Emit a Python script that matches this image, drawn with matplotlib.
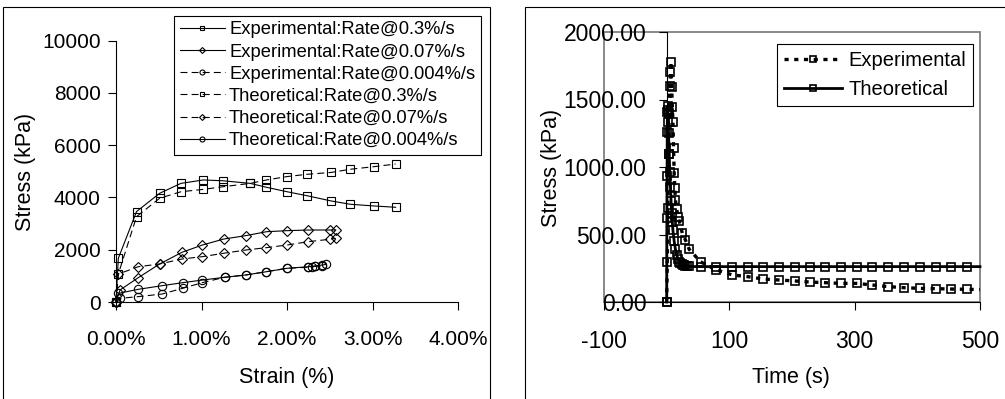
import matplotlib
matplotlib.use("Agg")
import matplotlib.pyplot as plt
from matplotlib.patches import Rectangle
from matplotlib.lines import Line2D

plt.rcParams['font.family'] = ['Liberation Sans', 'DejaVu Sans']
plt.rcParams['lines.scale_dashes'] = False

# ---- left panel data: strain (%) vs stress (kPa)
strain_sq = [0, 0.027, 0.24, 0.51, 0.76, 1.02, 1.25, 1.57, 1.76, 2.0, 2.23, 2.52, 2.74, 3.02, 3.27]
exp_03 = [0, 1670, 3460, 4160, 4540, 4670, 4640, 4540, 4390, 4220, 4070, 3865, 3740, 3675, 3625]
theo_03 = [0, 1070, 3265, 3970, 4220, 4310, 4410, 4540, 4670, 4800, 4885, 4960, 5080, 5180, 5280]

strain_dia_exp = [0, 0.047, 0.26, 0.51, 0.77, 1.01, 1.26, 1.52, 1.76, 2.0, 2.25, 2.50, 2.57]
exp_007 = [0, 460, 930, 1455, 1900, 2180, 2410, 2540, 2690, 2730, 2755, 2755, 2755]
strain_dia_theo = [0, 0.027, 0.26, 0.51, 0.77, 1.01, 1.26, 1.52, 1.76, 2.0, 2.25, 2.50, 2.57]
theo_007 = [0, 1070, 1350, 1455, 1645, 1735, 1865, 1990, 2080, 2180, 2310, 2400, 2440]

strain_cir_exp = [0, 0.047, 0.26, 0.54, 0.78, 1.01, 1.27, 1.52, 1.76, 2.0, 2.25, 2.29, 2.33, 2.41]
exp_0004 = [0, 140, 205, 305, 525, 740, 945, 1035, 1160, 1290, 1330, 1350, 1365, 1380]
strain_cir_theo = [0, 0.027, 0.26, 0.54, 0.78, 1.01, 1.27, 1.52, 1.76, 2.0, 2.25, 2.33, 2.41, 2.46]
theo_0004 = [0, 330, 485, 625, 740, 840, 945, 1035, 1160, 1290, 1350, 1380, 1415, 1440]

left_labels = ["Experimental:Rate@0.3%/s", "Experimental:Rate@0.07%/s",
               "Experimental:Rate@0.004%/s", "Theoretical:Rate@0.3%/s",
               "Theoretical:Rate@0.07%/s", "Theoretical:Rate@0.004%/s"]

# ---- right panel data: time (s) vs stress (kPa)
time_exp = [0, 1, 2, 3, 4, 5, 6, 7, 8, 9, 10, 11, 12, 13, 14, 16, 18, 20, 25, 30, 36,
            54, 78, 105, 129, 154, 179, 204, 228, 253, 278, 303, 328, 353, 379, 404,
            429, 454, 479, 500]
stress_exp = [0, 300, 700, 1100, 1400, 1600, 1700, 1780, 1595, 1447, 1336, 1138, 953,
              844, 755, 690, 632, 600, 509, 459, 390,
              298, 240, 200, 188, 170, 163, 156, 148, 143, 138, 138, 126, 114, 106, 101,
              99, 96, 94, 92]
time_theo = [0, 0.3, 0.6, 0.9, 1.2, 1.5, 2, 2.5, 3, 4, 5, 6, 7, 8, 9, 10, 12, 14, 16,
             18, 20, 22, 24, 26, 28, 30, 33, 36,
             54, 78, 105, 129, 154, 179, 204, 228, 253, 278, 303, 328, 353, 379, 404,
             429, 454, 479, 500]
stress_theo = [0, 620, 930, 1260, 1410, 1450, 1420, 1330, 1250, 1100, 960, 850, 750,
               660, 590, 530, 450, 390, 350, 320, 300, 290, 282, 276, 272, 268, 265, 263,
               262, 262, 262, 262, 262, 262, 262, 262, 262, 262, 262, 262, 262, 262, 262,
               262, 262, 262, 262]

W, H = 1005, 399
fig = plt.figure(figsize=(W / 100, H / 100), dpi=100)

# outer chart frames
fig.add_artist(Rectangle((3 / W, -0.1), 487 / W, 1.1 - 7 / H, transform=fig.transFigure,
                         fill=False, ec='black', lw=0.8))
fig.add_artist(Rectangle((525 / W, -0.1), 0.6, 1.1 - 7 / H, transform=fig.transFigure,
                         fill=False, ec='black', lw=0.8))

# ================= left panel
ax1 = fig.add_axes([116 / W, 1 - 302 / H, 342 / W, 261.3 / H])
dash = (0, (5, 3))
mk = dict(ms=6, mfc='none', mec='black', mew=0.8, color='black', lw=0.8, clip_on=False)
ax1.plot(strain_sq, exp_03, marker='s', ls='-', label=left_labels[0], **mk)
ax1.plot(strain_dia_exp, exp_007, marker='D', ls='-', label=left_labels[1],
         **{**mk, 'ms': 5})
ax1.plot(strain_cir_exp, exp_0004, marker='o', ls=dash, label=left_labels[2], **mk)
ax1.plot(strain_sq, theo_03, marker='s', ls=dash, label=left_labels[3], **mk)
ax1.plot(strain_dia_theo, theo_007, marker='D', ls=dash, label=left_labels[4],
         **{**mk, 'ms': 5})
ax1.plot(strain_cir_theo, theo_0004, marker='o', ls='-', label=left_labels[5], **mk)

ax1.set_xlim(0, 4)
ax1.set_ylim(0, 10000)
ax1.set_xticks([0, 1, 2, 3, 4])
ax1.set_xticklabels([f"{v:.2f}%" for v in [0, 1, 2, 3, 4]])
ax1.set_yticks([0, 2000, 4000, 6000, 8000, 10000])
ax1.spines['top'].set_visible(False)
ax1.spines['right'].set_visible(False)
for s in ['left', 'bottom']:
    ax1.spines[s].set_linewidth(0.8)
ax1.tick_params(axis='both', direction='out', length=5.5, width=0.8, labelsize=15)
ax1.tick_params(axis='x', pad=15)
ax1.tick_params(axis='y', pad=5.5)

leg1 = ax1.legend(loc='upper left', bbox_to_anchor=(174 / W, 1 - 16 / H),
                  bbox_transform=fig.transFigure, borderaxespad=0, fontsize=13.2,
                  frameon=True, fancybox=False, edgecolor='black', framealpha=1,
                  handlelength=2.5, handletextpad=0.2, labelspacing=0.28,
                  markerscale=0.6, borderpad=0.3)
leg1.get_frame().set_linewidth(0.8)

fig.text(287 / W, 1 - 378 / H, "Strain (%)", ha='center', va='center', fontsize=15.5)
fig.text(25 / W, 1 - 172 / H, "Stress (kPa)", ha='center', va='center',
         rotation=90, fontsize=15.5)

# ================= right panel
ax2 = fig.add_axes([604 / W, 1 - 302 / H, 376 / W, 270 / H])
ax2.add_patch(Rectangle((0, 0), 1, 1, transform=ax2.transAxes, fill=False,
                        ec='#808080', lw=1.3, clip_on=False, zorder=0.5))
ax2.plot(time_exp, stress_exp, color='black', lw=2.4, ls=(0, (3, 4)),
         marker='s', ms=6, mfc='none', mec='black', mew=1.2,
         markevery=slice(0, len(time_exp) - 1), clip_on=False)
ax2.plot(time_theo, stress_theo, color='black', lw=2.0, ls='-',
         marker='s', ms=6, mfc='none', mec='black', mew=1.2,
         markevery=slice(0, len(time_theo) - 1), clip_on=False)

ax2.set_xlim(-100, 500)
ax2.set_ylim(0, 2000)
ax2.spines['left'].set_position(('data', 0))
ax2.spines['top'].set_visible(False)
ax2.spines['right'].set_visible(False)
for s in ['left', 'bottom']:
    ax2.spines[s].set_linewidth(0.8)
ax2.set_xticks([-100, 100, 300, 500])
ax2.set_xticklabels(['-100', '100', '300', '500'])
ax2.set_yticks([0, 500, 1000, 1500, 2000])
ax2.set_yticklabels([f"{v:.2f}" for v in [0, 500, 1000, 1500, 2000]])
ax2.tick_params(axis='both', direction='out', length=5.5, width=0.8, labelsize=16.5)
ax2.tick_params(axis='x', pad=15)
ax2.tick_params(axis='y', pad=9)

handles = [Line2D([], [], color='black', lw=2.4, ls=(0, (3, 4)), marker='s', ms=6,
                  mfc='none', mec='black', mew=1.2),
           Line2D([], [], color='black', lw=2.0, ls='-', marker='s', ms=6,
                  mfc='none', mec='black', mew=1.2)]
leg2 = ax2.legend(handles, ["Experimental", "Theoretical"], loc='upper left',
                  bbox_to_anchor=(777 / W, 1 - 44 / H), bbox_transform=fig.transFigure,
                  borderaxespad=0, fontsize=14.5, frameon=True, fancybox=False,
                  edgecolor='black', framealpha=1, handlelength=2.9,
                  handletextpad=0.3, labelspacing=0.5, markerscale=0.8, borderpad=0.35)
leg2.get_frame().set_linewidth(0.8)

fig.text(791 / W, 1 - 377 / H, "Time (s)", ha='center', va='center', fontsize=15.5)
fig.text(551 / W, 1 - 168 / H, "Stress (kPa)", ha='center', va='center',
         rotation=90, fontsize=15.5)

fig.savefig("out.png", dpi=100)
